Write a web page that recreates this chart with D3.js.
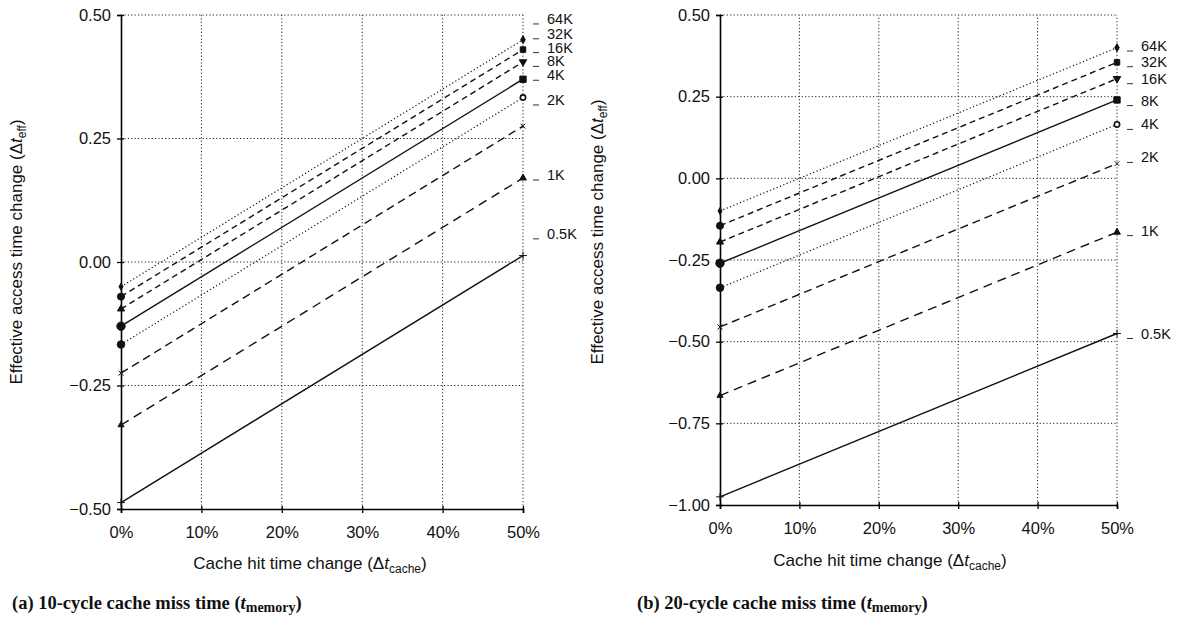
<!DOCTYPE html>
<html>
<head>
<meta charset="utf-8">
<script src="https://cdn.jsdelivr.net/npm/d3@7"></script>
<style>
  body { margin: 0; background: #fff; }
  svg { display: block; }
  .tick text { font-family: "Liberation Sans", Arial, sans-serif; font-size: 16.5px; fill: #111; }
  .lbl { font-family: "Liberation Sans", Arial, sans-serif; fill: #111; }
  .cap { font-family: "Liberation Serif", "Times New Roman", serif; font-weight: bold; fill: #111; }
</style>
</head>
<body>
<svg id="chart" width="1184" height="617"></svg>
<script>
// cache sizes, one line each
var sizes = ["64K", "32K", "16K", "8K", "4K", "2K", "1K", "0.5K"];
var hitChange = [0, 50];            // % cache hit time change
var xTicks = [0, 10, 20, 30, 40, 50];

// (a) 10-cycle miss time: value at 0% and at 50%
var miss10At0 = [-0.05, -0.07, -0.095, -0.13, -0.167, -0.225, -0.33, -0.487];
var miss10At50 = [0.45, 0.43, 0.405, 0.37, 0.333, 0.275, 0.17, 0.013];
var miss10Ticks = [-0.5, -0.25, 0, 0.25, 0.5];
var miss10LabelAt = [0.492, 0.462, 0.434, 0.406, 0.378, 0.328, 0.176, 0.057];

// (b) 20-cycle miss time
var miss20At0 = [-0.10, -0.145, -0.195, -0.26, -0.335, -0.455, -0.665, -0.975];
var miss20At50 = [0.40, 0.355, 0.305, 0.24, 0.165, 0.045, -0.165, -0.475];
var miss20Ticks = [-1, -0.75, -0.5, -0.25, 0, 0.25, 0.5];
var miss20LabelAt = [0.405, 0.357, 0.305, 0.238, 0.165, 0.064, -0.16, -0.475];

// line style per size
var dashes = ["1.2,2.4", "6,4", "6,4", null, "1.2,2.4", "8,5", "9,6", null];
var symStart = [d3.symbolDiamond, d3.symbolCircle, d3.symbolTriangle, d3.symbolCircle, d3.symbolCircle, d3.symbolTimes, d3.symbolTriangle, d3.symbolPlus];
var symEnd = [d3.symbolDiamond, d3.symbolSquare, d3.symbolTriangle, d3.symbolSquare, d3.symbolCircle, d3.symbolTimes, d3.symbolTriangle, d3.symbolPlus];
var symSizeStart = [14, 40, 22, 55, 45, 18, 16, 22];
var symSizeEnd = [18, 30, 24, 40, 22, 16, 20, 22];

var svg = d3.select("#chart");

function panel(cfg) {
  var x = d3.scaleLinear().domain([0, 50]).range([cfg.left, cfg.right]);
  var y = d3.scaleLinear().domain(d3.extent(cfg.ticks)).range([cfg.bottom, cfg.top]);
  var g = svg.append("g");

  // dotted grid
  g.append("g").selectAll("line").data(cfg.ticks.slice(1)).enter().append("line")
    .attr("x1", cfg.left).attr("x2", cfg.right)
    .attr("y1", function(d) { return y(d); }).attr("y2", function(d) { return y(d); })
    .attr("stroke", "#222").attr("stroke-width", 1).attr("stroke-dasharray", "1.2,2.2");
  g.append("g").selectAll("line").data(xTicks.slice(1)).enter().append("line")
    .attr("x1", function(d) { return x(d); }).attr("x2", function(d) { return x(d); })
    .attr("y1", cfg.bottom).attr("y2", cfg.top)
    .attr("stroke", "#222").attr("stroke-width", 1).attr("stroke-dasharray", "1.2,2.2");

  // axes
  var yAxis = g.append("g").attr("transform", "translate(" + cfg.left + ",0)")
    .call(d3.axisLeft(y).tickValues(cfg.ticks).tickFormat(d3.format(".2f")).tickSize(4).tickPadding(6));
  yAxis.selectAll(".tick line").attr("x1", 3).attr("stroke-width", 1.3);
  yAxis.select(".domain").attr("stroke-width", 1.6);

  var xAxis = g.append("g").attr("transform", "translate(0," + cfg.bottom + ")")
    .call(d3.axisBottom(x).tickValues(xTicks).tickFormat(function(d) { return d + "%"; }).tickSize(4).tickPadding(13));
  xAxis.selectAll(".tick line").attr("y1", -3).attr("stroke-width", 1.3);
  xAxis.select(".domain").attr("stroke-width", 1.6);

  // lines
  var line = d3.line().x(function(d) { return x(d[0]); }).y(function(d) { return y(d[1]); });
  sizes.forEach(function(s, i) {
    var pts = [[hitChange[0], cfg.at0[i]], [hitChange[1], cfg.at50[i]]];
    g.append("path").datum(pts).attr("d", line)
      .attr("fill", "none").attr("stroke", "#111")
      .attr("stroke-width", dashes[i] && dashes[i].indexOf("1.2") === 0 ? 1.2 : 1.4)
      .attr("stroke-dasharray", dashes[i]);

    g.append("path")
      .attr("d", d3.symbol(symStart[i], symSizeStart[i]))
      .attr("transform", "translate(" + x(hitChange[0]) + "," + y(cfg.at0[i]) + ")")
      .attr("fill", (i === 5 || i === 7) ? "none" : "#111")
      .attr("stroke", "#111").attr("stroke-width", 1);
    g.append("path")
      .attr("d", d3.symbol(symEnd[i], symSizeEnd[i]))
      .attr("transform", "translate(" + x(hitChange[1]) + "," + y(cfg.at50[i]) + ")" + (i === 2 ? " rotate(180)" : ""))
      .attr("fill", i === 4 ? "#fff" : ((i === 5 || i === 7) ? "none" : "#111"))
      .attr("stroke", "#111").attr("stroke-width", i === 4 ? 1.6 : 1);

    // label with leading dash
    var ly = y(cfg.labelAt[i]);
    g.append("line").attr("x1", cfg.right + 10).attr("x2", cfg.right + 16)
      .attr("y1", ly + 5).attr("y2", ly + 5).attr("stroke", "#333").attr("stroke-width", 1);
    g.append("text").attr("class", "lbl").attr("x", cfg.right + 24).attr("y", ly + 5)
      .attr("font-size", 14.5).text(s);
  });

  // axis titles
  var xt = g.append("text").attr("class", "lbl").attr("font-size", 17)
    .attr("x", cfg.xTitleX).attr("y", cfg.xTitleY).attr("text-anchor", "middle");
  xt.append("tspan").text("Cache hit time change (\u0394");
  xt.append("tspan").attr("font-style", "italic").text("t");
  xt.append("tspan").attr("font-size", 12).attr("dy", 4).text("cache");
  xt.append("tspan").attr("dy", -4).text(")");

  var yt = g.append("text").attr("class", "lbl").attr("font-size", 17)
    .attr("text-anchor", "middle")
    .attr("transform", "translate(" + cfg.yTitleX + "," + cfg.yTitleY + ") rotate(-90)");
  yt.append("tspan").text("Effective access time change (\u0394");
  yt.append("tspan").attr("font-style", "italic").text("t");
  yt.append("tspan").attr("font-size", 12).attr("dy", 4).text("eff");
  yt.append("tspan").attr("dy", -4).text(")");

  // caption
  var c = g.append("text").attr("class", "cap").attr("font-size", 18.5)
    .attr("x", cfg.capX).attr("y", 609);
  c.append("tspan").text(cfg.capText + " (");
  c.append("tspan").attr("font-style", "italic").text("t");
  c.append("tspan").attr("font-size", 14).attr("dy", 3).text("memory");
  c.append("tspan").attr("dy", -3).text(")");
}

panel({
  left: 121, right: 523, top: 15, bottom: 509,
  ticks: miss10Ticks, at0: miss10At0, at50: miss10At50, labelAt: miss10LabelAt,
  xTitleX: 310, xTitleY: 569, yTitleX: 22, yTitleY: 252,
  capX: 12, capText: "(a) 10-cycle cache miss time"
});

panel({
  left: 720, right: 1117, top: 15, bottom: 505,
  ticks: miss20Ticks, at0: miss20At0, at50: miss20At50, labelAt: miss20LabelAt,
  xTitleX: 890, xTitleY: 566, yTitleX: 603, yTitleY: 232,
  capX: 637, capText: "(b) 20-cycle cache miss time"
});
</script>
</body>
</html>
